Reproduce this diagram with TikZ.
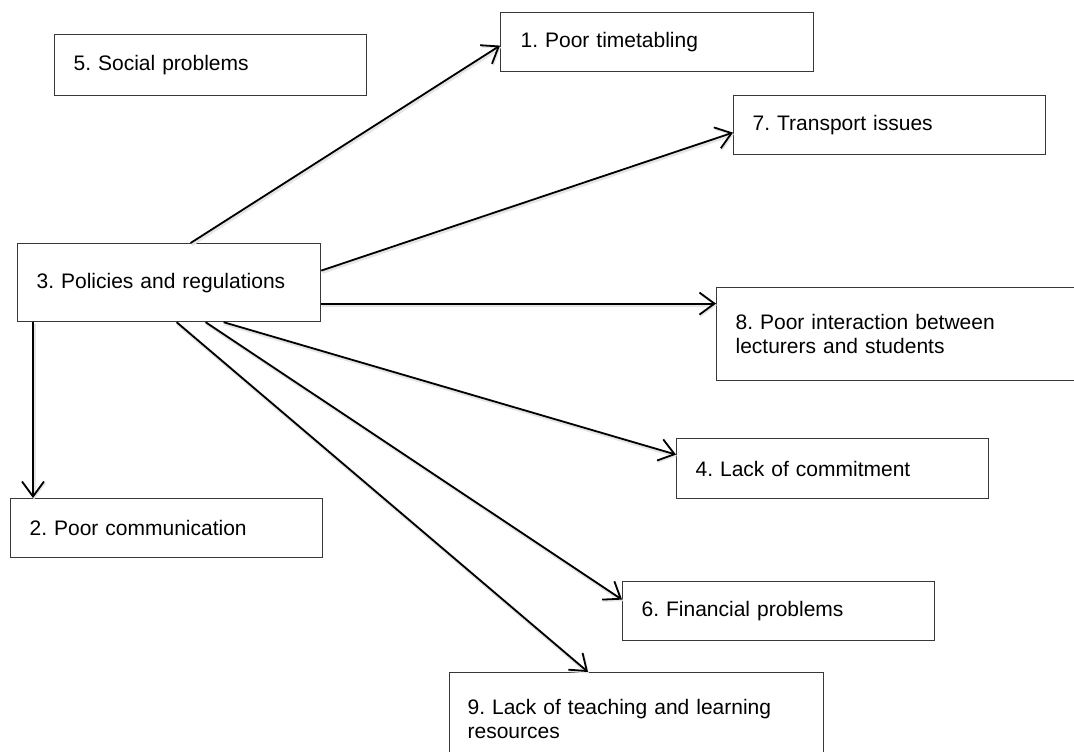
\documentclass[tikz,border=0pt]{standalone}
\usepackage{fontspec}
\setmainfont{Liberation Sans}
\usetikzlibrary{arrows.meta,calc}

\tikzset{
  issue/.style={rectangle, draw=black!78, line width=1.2pt, fill=white,
    anchor=north west, inner xsep=19pt, inner ysep=0pt, align=left,
    font=\fontsize{21}{24}\selectfont\frenchspacing},
  link/.style={line width=1.8pt, draw=black,
    -{Straight Barb[length=15pt,width=22pt,line width=1.8pt]},
    preaction={draw=black!10, line width=3.5pt,
      transform canvas={shift={(1pt,-1.5pt)}}}}
}

\begin{document}
\begin{tikzpicture}[x=1pt, y=-1pt]
  \useasboundingbox (0,0) rectangle (1074,752);
  \fill[white] (0,0) rectangle (1074,752);
  \clip (0,0) rectangle (1074,752);

  % problem boxes
  \node[issue, minimum width=312pt, minimum height=61pt, text width=274pt] (b5) at (54,34) {5. Social problems};
  \node[issue, minimum width=313pt, minimum height=59pt, text width=273pt, inner xsep=20pt] (b1) at (500,12) {1. Poor timetabling};
  \node[issue, minimum width=312pt, minimum height=59pt, text width=274pt] (b7) at (733,95) {7. Transport issues};
  \node[issue, minimum width=303pt, minimum height=78pt, text width=265pt] (b3) at (17,243) {3. Policies and regulations};
  \node[issue, minimum width=380pt, minimum height=93pt, text width=342pt] (b8) at (716,287) {8. Poor interaction between\\lecturers and students};
  \node[issue, minimum width=312pt, minimum height=60pt, text width=274pt] (b4) at (676,438) {4. Lack of commitment};
  \node[issue, minimum width=312pt, minimum height=59pt, text width=274pt] (b2) at (10,498) {2. Poor communication};
  \node[issue, minimum width=312pt, minimum height=59pt, text width=274pt] (b6) at (622,581) {6. Financial problems};
  \node[issue, minimum width=374pt, minimum height=93pt, text width=338pt, inner xsep=18pt] (b9) at (449,672) {9. Lack of teaching and learning\\resources};

  % start points on the policies box
  \coordinate (s1) at ([xshift=21.5pt]b3.north);
  \coordinate (s7) at ([yshift=12pt]b3.east);
  \coordinate (s8) at ([yshift=-21pt]b3.east);
  \coordinate (s4) at ([xshift=54.5pt]b3.south);
  \coordinate (s6) at ([xshift=36.5pt]b3.south);
  \coordinate (s9) at ([xshift=7.5pt]b3.south);
  \coordinate (s2) at ([xshift=16pt]b3.south west);

  % connectors
  \draw[link] (s1) -- ([yshift=-3.5pt]b1.west);
  \draw[link] (s7) -- ([yshift=-7.5pt]b7.west);
  \draw[link] (s8) -- (s8 -| b8.west);
  \draw[link] (s4) -- ([yshift=14pt]b4.west);
  \draw[link] (s6) -- ([yshift=11.5pt]b6.west);
  \draw[link] (s9) -- ([xshift=139pt]b9.north west);
  \draw[link] (s2) -- (s2 |- b2.north);
\end{tikzpicture}
\end{document}
